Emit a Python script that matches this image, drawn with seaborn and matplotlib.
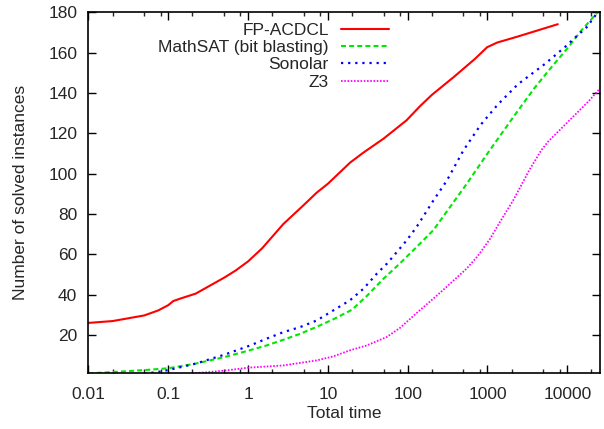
import numpy as np
import pandas as pd
import matplotlib
matplotlib.use("Agg")
import matplotlib.pyplot as plt
import seaborn as sns
from matplotlib.ticker import FixedLocator, NullFormatter

# ---- data ----
red_x = [0.01, 0.02, 0.05, 0.075, 0.1, 0.115, 0.14, 0.22, 0.5, 0.7, 1.0, 1.5, 2.76, 5.0, 7.2,
         10, 19, 28, 50, 97, 143, 200, 380, 700, 990, 1320, 2400, 7600]
red_y = [26, 26.9, 29.7, 32.2, 34.8, 36.8, 38, 40.5, 48.4, 52, 56.5, 63, 75, 84.5, 90.5,
         95, 105.5, 110.5, 117.4, 126.5, 133.5, 139, 148, 157, 162.7, 165, 168, 174.1]

green_x = [0.01, 0.02, 0.05, 0.1, 0.22, 0.5, 1.0, 1.7, 2.8, 4.5, 7.2, 12, 20, 31, 50, 80,
           140, 210, 550, 1000, 2100, 3900, 6300, 10300, 15000, 24000]
green_y = [1, 1.6, 2.6, 3.5, 5.8, 9, 12.2, 14.8, 17.7, 20.6, 24, 28, 32.5, 39.5, 48, 55.5,
           65, 72, 95, 110, 128, 142.6, 152.7, 162.7, 171, 180]

blue_x = [0.05, 0.07, 0.1, 0.22, 0.51, 1.06, 1.71, 2.76, 4.47, 7.24, 11.7, 18.9, 28, 41, 55,
          73, 97, 129, 210, 310, 500, 820, 1340, 2400, 5200, 9300, 12000, 17600, 24000]
blue_y = [1, 1.5, 2.6, 5.8, 10.3, 14.8, 18.2, 21.4, 23.9, 27.2, 32.2, 37.2, 43, 50.4, 55.4,
          61.1, 66.9, 73.5, 86.7, 96.6, 111.6, 124.2, 134.2, 144.3, 154.3, 162.7, 166.8, 172.7, 180]

z3_x = [0.2, 0.3, 0.5, 1.0, 2.76, 7.24, 11.7, 18.9, 30.6, 54.6, 80, 134, 209, 300, 400, 550,
        750, 1070, 1430, 2100, 3370, 4700, 5750, 8500, 12500, 18500, 25700]
z3_y = [1, 1.5, 2.3, 3.8, 4.9, 7.4, 9.4, 12.4, 14.8, 19, 23.5, 31.4, 38, 43.5, 48, 53,
        59, 67.5, 76, 86.8, 102, 111.5, 115.9, 122.6, 129.2, 135.9, 142.3]

labels = ["FP-ACDCL", "MathSAT (bit blasting)", "Sonolar", "Z3"]
x_major = [0.01, 0.1, 1, 10, 100, 1000, 10000]
x_major_labels = ["0.01", "0.1", "1", "10", "100", "1000", "10000"]
y_ticks = [20, 40, 60, 80, 100, 120, 140, 160, 180]

# ---- style ----
sns.set_style("ticks")
plt.rcParams["font.family"] = ["Liberation Sans", "DejaVu Sans"]
FS = 12.5
plt.rcParams["font.size"] = FS

fig = plt.figure(figsize=(6.04, 4.29), dpi=100)
ax = fig.add_axes([0.1465, 0.1298, 0.8469, 0.8415])

series = [
    (red_x, red_y, labels[0], "#ff0000", "-", 1.5),
    (green_x, green_y, labels[1], "#00e800", (0, (2.4, 1.5)), 1.5),
    (blue_x, blue_y, labels[2], "#0000ff", (0, (1, 2.2)), 1.6),
    (z3_x, z3_y, labels[3], "#ff00ff", (0, (0.9, 0.9)), 1.3),
]
for xs, ys, lab, col, ls, lw in series:
    df = pd.DataFrame({"x": xs, "y": ys})
    sns.lineplot(data=df, x="x", y="y", ax=ax, color=col, linestyle=ls, linewidth=lw,
                 label=lab, estimator=None, sort=True)

ax.set_xscale("log")
ax.set_xlim(0.01, 25700)
ax.set_ylim(1, 180)

minor = [m * 10.0 ** e for e in range(-2, 5) for m in (2, 5, 8)]
minor = [v for v in minor if v < 25700]
ax.xaxis.set_major_locator(FixedLocator(x_major))
ax.set_xticklabels(x_major_labels)
ax.xaxis.set_minor_locator(FixedLocator(minor))
ax.xaxis.set_minor_formatter(NullFormatter())
ax.set_yticks(y_ticks)
ax.set_yticklabels([str(v) for v in y_ticks])

ax.tick_params(axis="both", which="major", direction="in", length=6, width=1,
               top=True, right=True, labelsize=FS, color="black")
ax.tick_params(axis="x", which="major", pad=10)
ax.tick_params(axis="y", which="major", pad=8)
ax.tick_params(axis="x", which="minor", direction="in", length=3, width=1, top=True)
ax.tick_params(axis="y", which="minor", left=False, right=False)

for s in ax.spines.values():
    s.set_visible(True)
    s.set_linewidth(1.2)
    s.set_color("black")

ax.set_xlabel("Total time", fontsize=FS, labelpad=3)
ax.set_ylabel("Number of solved instances", fontsize=FS, labelpad=15)

leg = ax.legend(loc="upper left", bbox_to_anchor=(0.123, 0.99), frameon=False,
                markerfirst=False, handlelength=2.75, handletextpad=0.69,
                labelspacing=0.12, fontsize=FS, borderaxespad=0)

fig.savefig("out.png", dpi=100)
